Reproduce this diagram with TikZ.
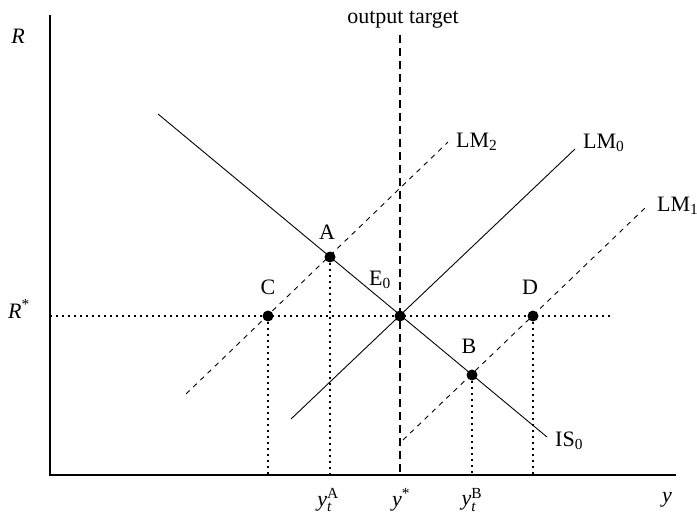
\documentclass[tikz,border=0pt]{standalone}
\usepackage{amsmath}
\usepackage{fontspec}
\setmainfont{Liberation Serif}
\begin{document}
\begin{tikzpicture}[x=1pt, y=-1pt, font=\fontsize{22}{26}\selectfont,
          dotline/.style={line width=1.9pt, dash pattern=on 1.9pt off 4.1pt},
          shiftline/.style={line width=0.9pt, dash pattern=on 5pt off 5pt},
          target/.style={line width=2pt, dash pattern=on 8pt off 5pt}]
          \useasboundingbox (0,0) rectangle (697,516);
          \coordinate (O) at (50,475);
          \coordinate (Rtop) at (50,15);
          \coordinate (yend) at (676,475);
          \coordinate (Rstar) at (50,316);
          \coordinate (Rend) at (612,316);
          \coordinate (A) at (330,257);
          \coordinate (B) at (472,375);
          \coordinate (C) at (268,316);
          \coordinate (D) at (533,316);
          \coordinate (E0) at (400,316);
          \coordinate (IStop) at (158,114);
          \coordinate (ISbot) at (547,437);
          \coordinate (LMa) at (291,419);
          \coordinate (LMb) at (575,149);
          \coordinate (LMla) at (403,440);
          \coordinate (LMlb) at (645,208);
          \coordinate (LMua) at (186,394);
          \coordinate (LMub) at (448,142);
          \coordinate (ytop) at (400,35);
          \draw[line width=1.5pt] (Rtop) -- (O) -- (yend);
          \draw[dotline] (Rstar) -- (Rend);
          \draw[target] (ytop) -- (E0 |- O);
          \draw[dotline] (A) -- (A |- O);
          \draw[dotline] (B) -- (B |- O);
          \draw[dotline] (C) -- (C |- O);
          \draw[dotline] (D) -- (D |- O);
          \draw[line width=0.9pt] (IStop) -- (ISbot);
          \draw[line width=0.9pt] (LMa) -- (LMb);
          \draw[shiftline] (LMla) -- (LMlb);
          \draw[shiftline] (LMua) -- (LMub);
          \foreach \p in {A, B, C, D, E0}
            \fill (\p) circle (5.5pt);
          \node (lblR) at (18,36) {\textit{R}};
          \node (lblRstar) at (19,309) {$\textit{R}^{\text{*}}$};
          \node (lbly) at (667,500) {\textit{y}};
          \node (lbltarget) at (403,20) {output target};
          \node (lblA) at (327,232) {A};
          \node (lblB) at (469,346) {B};
          \node (lblC) at (268,287) {C};
          \node (lblD) at (530,287) {D};
          \node (lblE) at (380,280) {$\text{E}_{\text{0}}$};
          \node[anchor=west, inner sep=0pt] (lblIS) at (555,441) {$\text{IS}_{\text{0}}$};
          \node[anchor=west, inner sep=0pt] (lblLMzero) at (583,143) {$\text{LM}_{\text{0}}$};
          \node[anchor=west, inner sep=0pt] (lblLMone) at (657,206) {$\text{LM}_{\text{1}}$};
          \node[anchor=west, inner sep=0pt] (lblLMtwo) at (456,142) {$\text{LM}_{\text{2}}$};
          \node (lblyA) at (328,500) {$\textit{y}_{\textit{t}}^{\text{A}}$};
          \node (lblystar) at (401,500) {$\textit{y}^{\text{*}}$};
          \node (lblyB) at (472,500) {$\textit{y}_{\textit{t}}^{\text{B}}$};
        \end{tikzpicture}
\end{document}
